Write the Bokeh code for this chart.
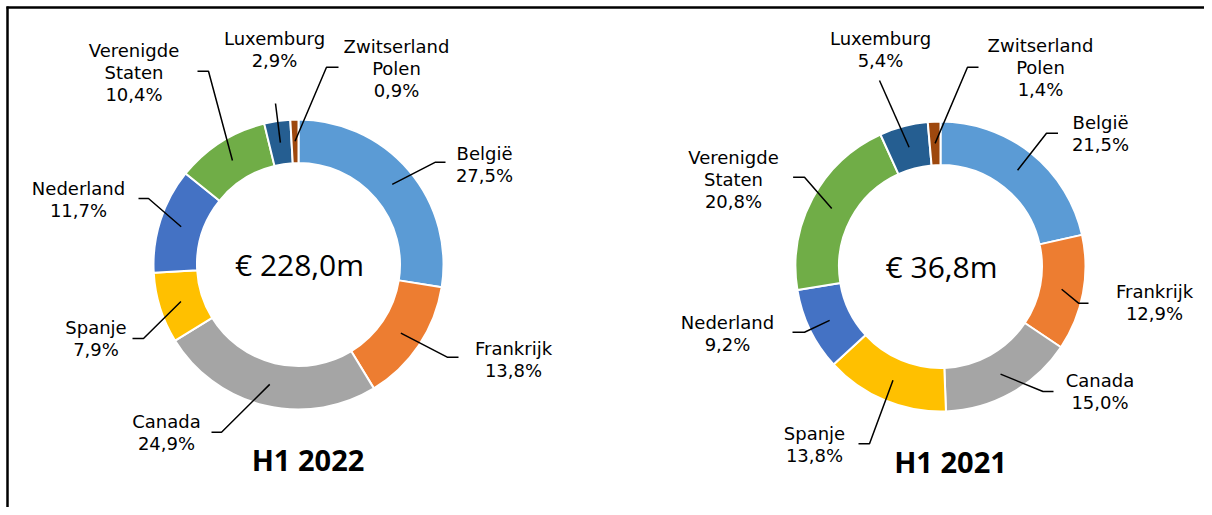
import math
from bokeh.plotting import figure
from bokeh.models import Range1d
from bokeh.core.properties import value
from bokeh.embed import file_html
from bokeh.resources import INLINE

# ---------------- data ----------------
countries = ["België", "Frankrijk", "Canada", "Spanje", "Nederland",
             "Verenigde Staten", "Luxemburg", "Zwitserland Polen"]
label_lines = [["België"], ["Frankrijk"], ["Canada"], ["Spanje"], ["Nederland"],
               ["Verenigde", "Staten"], ["Luxemburg"], ["Zwitserland", "Polen"]]
colors = ["#5B9BD5", "#ED7D31", "#A5A5A5", "#FFC000", "#4472C4",
          "#70AD47", "#255E91", "#9E480E"]
share_2022 = [27.5, 13.8, 24.9, 7.9, 11.7, 10.4, 2.9, 0.9]
share_2021 = [21.5, 12.9, 15.0, 13.8, 9.2, 20.8, 5.4, 1.4]
totals = ["€ 228,0m", "€ 36,8m"]
periods = ["H1 2022", "H1 2021"]

# ---------------- layout (pixel positions in the picture) ----------------
W, H = 1204, 507
centers = [(298, 264), (940, 266)]
R_OUT, R_IN = 145, 101.5
LINE_GAP = 22

# per slice: (text x, first-line y, elbow x, elbow y, tail end x or None)
layout_2022 = [
    (484, 153, 435, 161.7, 445),
    (513, 347.5, 446.7, 356.7, 458),
    (166, 420.5, 221, 431.7, 211),
    (95.5, 326.5, 143, 338, 132),
    (78, 188, 148, 198, 138),
    (133.5, 49.5, 208, 70.7, 197),
    (274, 37.5, 275, 103, None),
    (396, 45.5, 326, 66.7, 338),
]
layout_2021 = [
    (1100, 122, 1046, 132.7, 1057.5),
    (1154, 291, 1078, 302.7, 1088),
    (1099.5, 380, 1042.5, 391, 1053),
    (814, 433, 869, 443.3, 858),
    (727, 322, 804, 331.7, 792),
    (733, 156.5, 804, 176.7, 792.6),
    (880, 38, 879, 80, None),
    (1040, 45, 967, 66.7, 978),
]
title_pos = [(307.5, 459), (950, 460.5)]

LABEL_FONT = value("DejaVu Sans")
BIG_FONT = value("Open Sans")

p = figure(width=W, height=H, output_backend="svg", toolbar_location=None,
           x_range=Range1d(0, W), y_range=Range1d(-H, 0),
           x_axis_type=None, y_axis_type=None, min_border=0,
           outline_line_color=None, background_fill_color="white",
           border_fill_color="white")
p.grid.visible = False


def fmt(v):
    return f"{v:.1f}".replace(".", ",") + "%"


for (cx, cy), shares, lay, total, period, (tx, ty) in zip(
        centers, [share_2022, share_2021], [layout_2022, layout_2021],
        totals, periods, title_pos):
    cum = 0.0
    starts, ends, mids = [], [], []
    for v in shares:
        t1 = cum / 100 * 360
        cum += v
        t2 = cum / 100 * 360
        starts.append(math.radians(90 - t2))
        ends.append(math.radians(90 - t1))
        mids.append((t1 + t2) / 2)
    p.annular_wedge(x=[cx] * len(shares), y=[-cy] * len(shares),
                    inner_radius=R_IN, outer_radius=R_OUT,
                    start_angle=starts, end_angle=ends, direction="anticlock",
                    fill_color=colors, line_color="white", line_width=2)

    # leader lines
    xs, ys = [], []
    rm = (R_IN + R_OUT) / 2
    for mid, (lx, ly, ex, ey, tail) in zip(mids, lay):
        ax = cx + rm * math.sin(math.radians(mid))
        ay = cy - rm * math.cos(math.radians(mid))
        px = [ax, ex]
        py = [-ay, -ey]
        if tail is not None:
            px.append(tail)
            py.append(-ey)
        xs.append(px)
        ys.append(py)
    p.multi_line(xs=xs, ys=ys, line_color="black", line_width=1.5)

    # labels
    tx_l, ty_l, tt_l = [], [], []
    for lines, v, (lx, ly, ex, ey, tail) in zip(label_lines, shares, lay):
        for i, s in enumerate(lines + [fmt(v)]):
            tx_l.append(lx)
            ty_l.append(-(ly + i * LINE_GAP))
            tt_l.append(s)
    p.text(x=tx_l, y=ty_l, text=tt_l, text_align="center",
           text_baseline="middle", text_font=LABEL_FONT,
           text_font_size="18px", text_color="black")

    # centre total and period title
    p.text(x=[cx + 1], y=[-cy], text=[total], text_align="center",
           text_baseline="middle", text_font=BIG_FONT,
           text_font_size="30px", text_color="black")
    p.text(x=[tx], y=[-ty], text=[period], text_align="center",
           text_baseline="middle", text_font=BIG_FONT, text_font_style="bold",
           text_font_size="29px", text_color="black")

# frame lines (left and top)
p.segment(x0=[7, 6], y0=[-6, -7], x1=[7, W], y1=[-H, -7],
          line_color="black", line_width=2.5)

open("out.html", "w").write(file_html(p, INLINE))
